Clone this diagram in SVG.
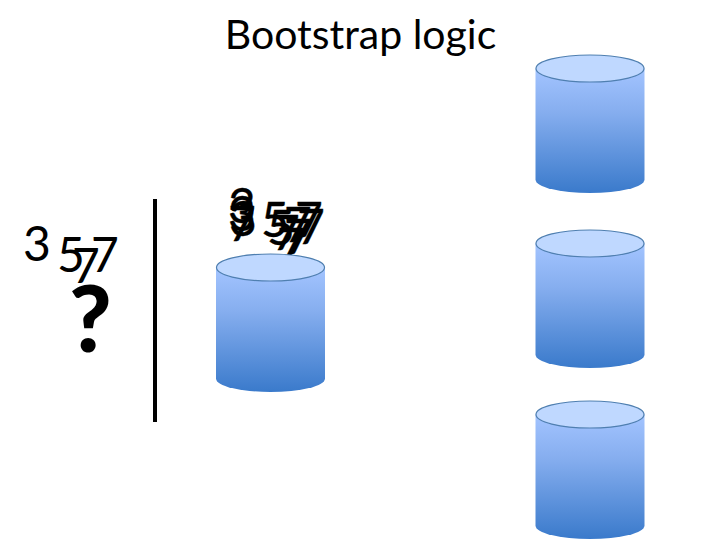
<svg xmlns="http://www.w3.org/2000/svg" width="720" height="540" viewBox="0 0 720 540">
<defs>
<linearGradient id="g" x1="0" y1="0" x2="0" y2="1"><stop offset="0" stop-color="#a3c4ff"/><stop offset="0.35" stop-color="#86aeef"/><stop offset="1" stop-color="#3a7acb"/></linearGradient>
<g id="cyl">
<path d="M-54.500 0V111A54.500 13.500 0 0 0 54.500 111V0Z" fill="url(#g)"/>
<ellipse cx="0" cy="0" rx="54" ry="13.500" fill="#bfd8ff" stroke="#4f7fb0" stroke-width="1.200"/>
</g>
</defs>
<style>
text{font-family:Lato,Carlito,"Open Sans",sans-serif;fill:#000}
.d{font-size:48px}
.m{font-size:48px;stroke:#000;stroke-width:.3px}
</style>
<text x="360.500" y="49" text-anchor="middle" font-size="41">Bootstrap logic</text>
<g id="left-digits">
<text class="d" x="23" y="261">3</text>
<text class="d" x="57" y="272">5</text>
<text class="d" x="91" y="272">7</text>
<text class="d" x="72" y="283">7</text>
<text x="69" y="352" font-size="92" font-weight="900">?</text>
</g>
<g id="connectors"><line x1="155" y1="199" x2="155" y2="422" stroke="#000" stroke-width="4"/></g>
<g id="mid-digits">
<text class="m" x="228" y="223">3</text>
<text class="m" x="228" y="231">3</text>
<text class="m" x="229" y="236">3</text>
<text class="m" x="228" y="241">7</text>
<text class="m" x="261" y="237">5</text>
<text class="m" x="295" y="237">7</text>
<text class="m" x="267" y="245">5</text>
<text class="m" x="297" y="244">7</text>
<text class="m" x="284" y="242">7</text>
<text class="m" x="272" y="250">7</text>
<text class="m" x="284" y="254">7</text>
<text class="m" x="277" y="263">7</text>
</g>
<g id="cylinder-mid"><use href="#cyl" transform="translate(270.500 267.500)"/></g>
<g id="cylinder-top"><use href="#cyl" transform="translate(590 68.500)"/></g>
<g id="cylinder-mid-right"><use href="#cyl" transform="translate(590 243.500)"/></g>
<g id="cylinder-bottom"><use href="#cyl" transform="translate(590 414.500)"/></g>
</svg>
